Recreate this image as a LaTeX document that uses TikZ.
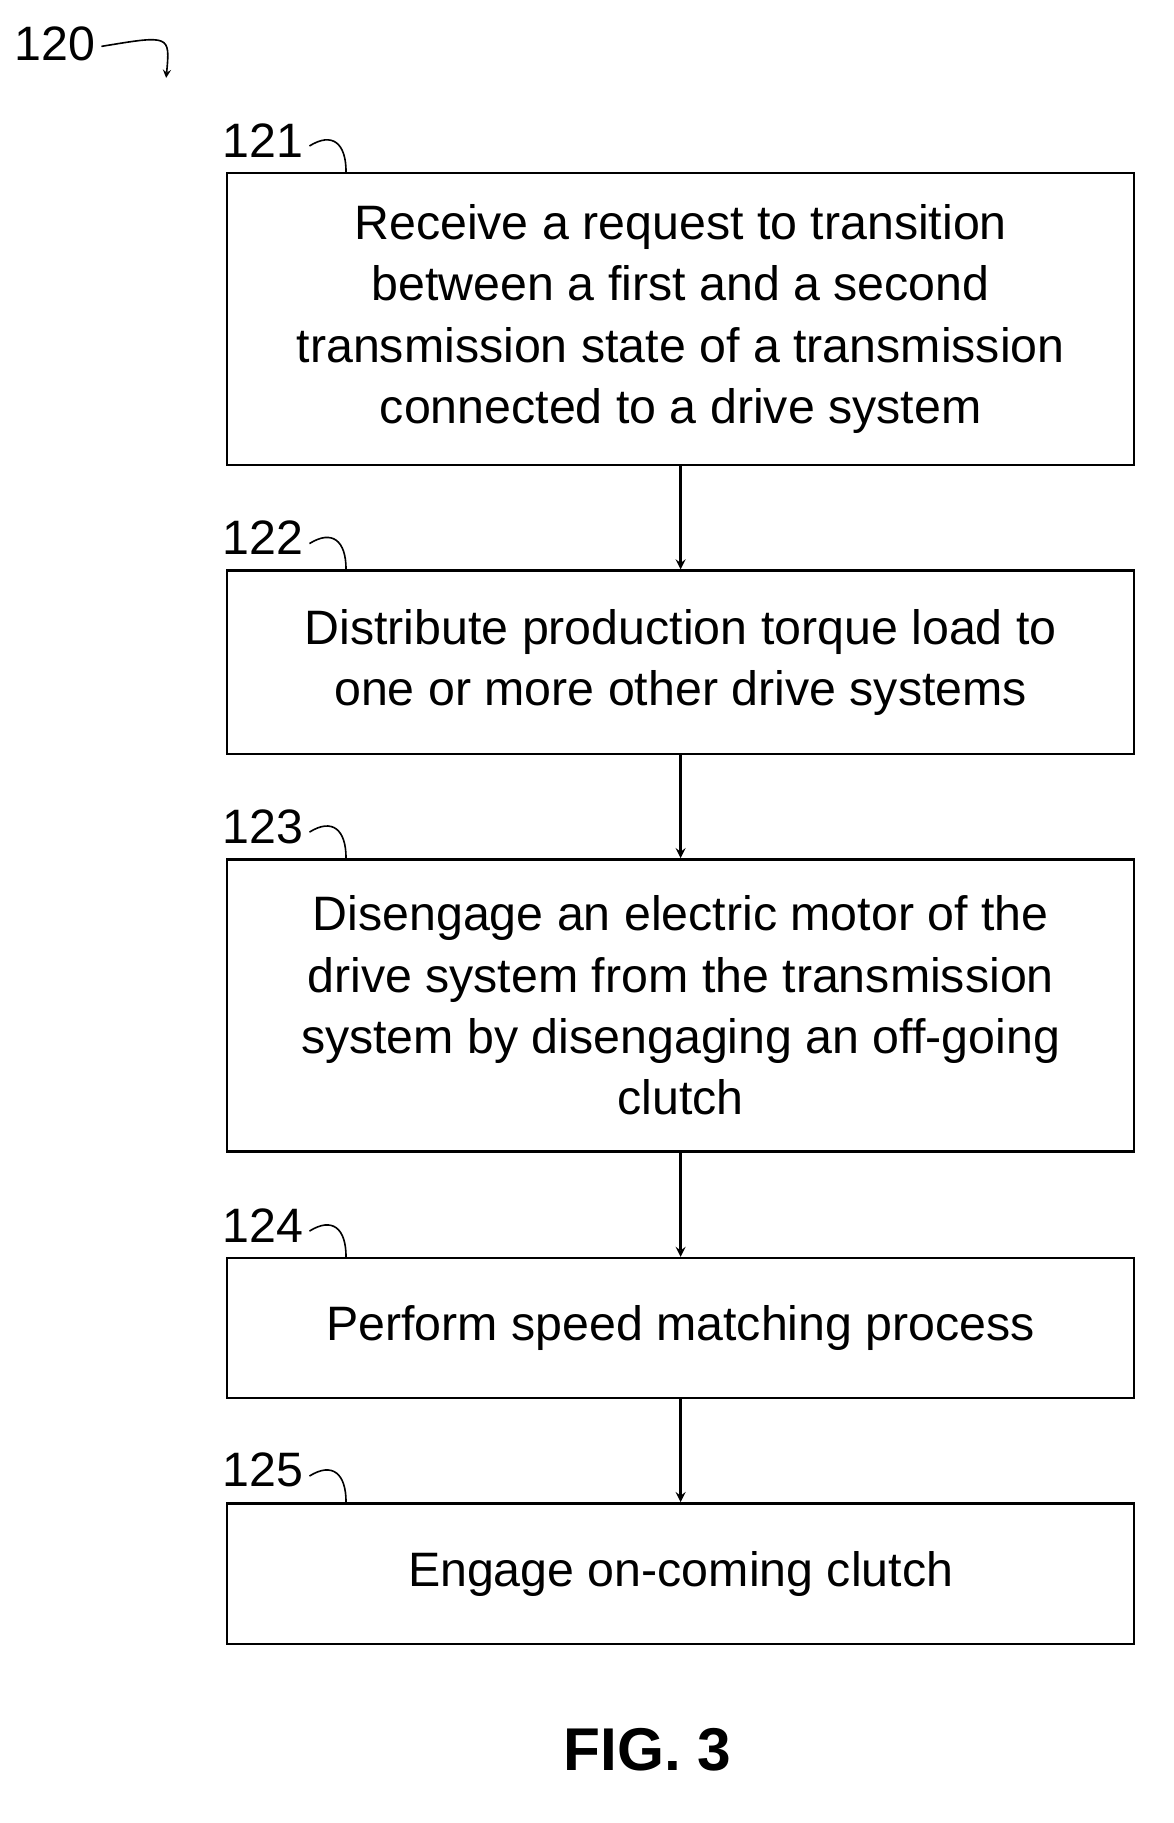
\documentclass[tikz,border=0pt]{standalone}
\usepackage{fontspec}
\setmainfont{Liberation Sans}
\usetikzlibrary{positioning}
\tikzset{
  stepbox/.style={draw, line width=1.2pt, minimum width=15.84cm, align=center,
    font=\fontsize{24}{30.5}\selectfont},
  flow/.style={->, line width=1.2pt, >=stealth},
  tag/.style={font=\fontsize{24}{28}\selectfont}
}
\begin{document}
\begin{tikzpicture}[x=0.02cm,y=-0.02cm]
  \useasboundingbox (0,0) rectangle (1024,1591);
  % Steps
  \node[stepbox, minimum height=5.1cm] (s1) at (594,278.5) {Receive a request to transition\\between a first and a second\\transmission state of a transmission\\connected to a drive system};
  \node[stepbox, minimum height=3.2cm] (s2) at (594,578) {Distribute production torque load to\\one or more other drive systems};
  \node[stepbox, minimum height=5.1cm] (s3) at (594,877.5) {Disengage an electric motor of the\\drive system from the transmission\\system by disengaging an off-going\\clutch};
  \node[stepbox, minimum height=2.44cm] (s4) at (594,1159) {Perform speed matching process};
  \node[stepbox, minimum height=2.46cm] (s5) at (594,1373.5) {Engage on-coming clutch};
  % Arrows
  \draw[flow] (s1) -- (s2);
  \draw[flow] (s2) -- (s3);
  \draw[flow] (s3) -- (s4);
  \draw[flow] (s4) -- (s5);
  % Reference numerals
  \foreach \n/\s in {121/s1,122/s2,123/s3,124/s4,125/s5}{
    \node[tag, anchor=south west, inner sep=0pt] (t\n) at ([xshift=-0.06cm,yshift=0.25cm]\s.north west) {\n};
    \draw[line width=0.8pt] ([xshift=0.1cm,yshift=-0.1cm]t\n.east) .. controls +(0.4cm,0.25cm) and +(0cm,0.5cm) .. ([xshift=2.1cm]\s.north west);
  }
  \node[tag, inner sep=0pt] (t120) at (48,38) {120};
  \coordinate (c120) at (145,68);
  \draw[line width=0.8pt, ->, >=stealth] ([xshift=0.1cm,yshift=-0.05cm]t120.east) .. controls +(1.2cm,0.2cm) .. (c120);
  \node[font=\bfseries\fontsize{30}{34}\selectfont] (fig) at (565,1527) {FIG. 3};
\end{tikzpicture}
\end{document}
